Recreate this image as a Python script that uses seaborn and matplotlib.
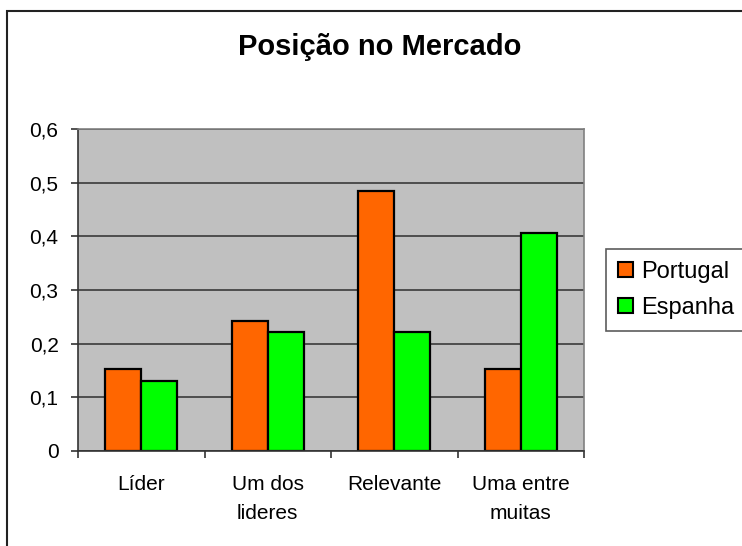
import numpy as np
import pandas as pd
import matplotlib
matplotlib.use('Agg')
import matplotlib.pyplot as plt
import seaborn as sns
from matplotlib.patches import Rectangle
from matplotlib.ticker import FuncFormatter, FixedLocator

# dados do gráfico
categorias = ['Líder', 'Um dos\nlideres', 'Relevante', 'Uma entre\nmuitas']
portugal = [0.152, 0.242, 0.485, 0.152]
espanha = [0.130, 0.222, 0.222, 0.407]
paises = ['Portugal', 'Espanha']
cores = ['#FF6600', '#00FF00']

df = pd.DataFrame({
    'categoria': categorias * 2,
    'valor': portugal + espanha,
    'pais': [paises[0]] * 4 + [paises[1]] * 4,
})

plt.rcParams['font.family'] = ['Liberation Sans', 'DejaVu Sans']

fig = plt.figure(figsize=(7.42, 5.46), dpi=100)
ax = fig.add_axes([78 / 742, 95 / 546, 506 / 742, 322 / 546])

sns.barplot(data=df, x='categoria', y='valor', hue='pais', palette=cores,
            saturation=1, width=0.57, edgecolor='black', linewidth=1.6, ax=ax)

ax.set_facecolor('#C0C0C0')
ax.set_ylim(0, 0.6)
ax.set_xlim(-0.5, 3.5)
ax.set_yticks(np.arange(0, 0.61, 0.1))
ax.yaxis.set_major_formatter(FuncFormatter(
    lambda v, p: '0' if abs(v) < 1e-9 else f'{v:.1f}'.replace('.', ',')))
ax.yaxis.grid(True, color='#3a3a3a', linewidth=1.2)
ax.set_axisbelow(True)
ax.set_xlabel('')
ax.set_ylabel('')

# marcas do eixo x entre as categorias
ax.xaxis.set_minor_locator(FixedLocator([-0.5, 0.5, 1.5, 2.5, 3.5]))
ax.tick_params(axis='x', which='major', length=0, pad=17, labelsize=15)
ax.tick_params(axis='x', which='minor', length=5, width=1.2, color='#333333')
ax.tick_params(axis='y', length=5, width=1.2, color='#333333', pad=9, labelsize=15)
for lbl in ax.get_xticklabels():
    lbl.set_linespacing(1.7)

for s in ['left', 'bottom']:
    ax.spines[s].set_color('#333333')
    ax.spines[s].set_linewidth(1.2)
for s in ['top', 'right']:
    ax.spines[s].set_color('#808080')
    ax.spines[s].set_linewidth(1.2)

leg = ax.legend(loc='upper left', bbox_to_anchor=(606 / 742, 1 - 249 / 546),
                bbox_transform=fig.transFigure, frameon=True, fancybox=False,
                fontsize=17, handlelength=0.64, handleheight=0.64,
                handletextpad=0.35, borderpad=0.5, labelspacing=0.6,
                borderaxespad=0)
leg.get_frame().set_edgecolor('#333333')
leg.get_frame().set_linewidth(1.2)
for h in leg.legend_handles:
    h.set_edgecolor('black')
    h.set_linewidth(1.5)

fig.text(380 / 742, 1 - 47 / 546, 'Posição no Mercado', ha='center',
         va='center', fontsize=21, fontweight='bold')

# moldura da área do gráfico
fig.patches.append(Rectangle((7 / 742, -0.1), 2, 1 - 10.5 / 546 + 0.1,
                             transform=fig.transFigure, fill=False,
                             edgecolor='#222222', linewidth=1.5))

fig.savefig('out.png', dpi=100)
